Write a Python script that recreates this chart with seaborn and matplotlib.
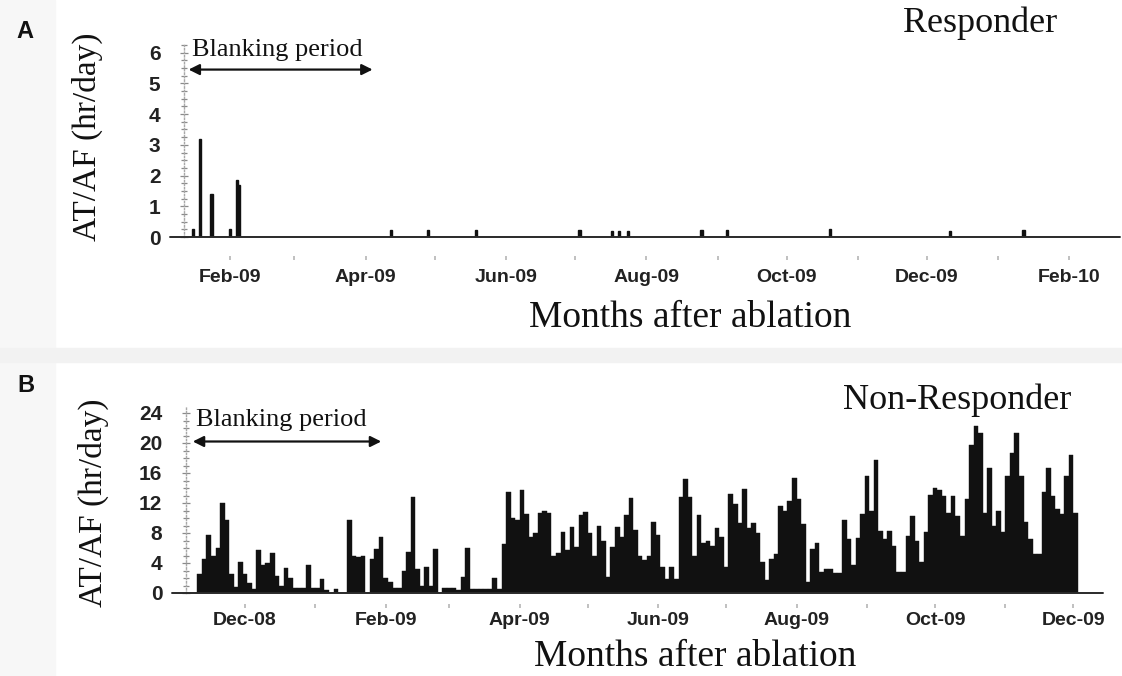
import matplotlib
matplotlib.use("Agg")
import matplotlib.pyplot as plt
import matplotlib.dates as mdates
from matplotlib.patches import Rectangle
from matplotlib.ticker import MultipleLocator
import numpy as np
import pandas as pd
import seaborn as sns

sns.set_style("white")

SERIF = "Liberation Serif"
SANS = "Liberation Sans"
INK = "#111111"

# Panel A (responder): days with any AT/AF, hours per day
resp_dates = ["2009-01-16", "2009-01-19", "2009-01-24", "2009-02-01", "2009-02-04", "2009-02-05",
              "2009-04-12", "2009-04-28", "2009-05-19", "2009-07-03", "2009-07-17", "2009-07-20",
              "2009-07-24", "2009-08-25", "2009-09-05", "2009-10-20", "2009-12-11", "2010-01-12"]
resp_hours = [0.25, 3.2, 1.4, 0.25, 1.85, 1.7,
              0.22, 0.22, 0.22, 0.22, 0.2, 0.2,
              0.2, 0.22, 0.22, 0.25, 0.2, 0.22]

# Panel B (non-responder): one value per 2-day bin, first bin starts 10 Nov 2008
nonresp_start = "2008-11-10"
nonresp_hours = [
    2.6, 4.5, 7.8, 4.9, 6.0, 12.0, 9.7, 2.5, 0.8, 4.2,
    2.6, 1.3, 0.6, 5.8, 3.8, 4.0, 5.3, 2.3, 1.0, 3.4,
    2.0, 0.7, 0.7, 0.7, 3.8, 0.7, 0.7, 1.9, 0.4, 0.0,
    0.5, 0.0, 0.0, 9.7, 5.0, 4.8, 5.0, 0.0, 4.5, 5.8,
    7.5, 2.0, 1.5, 0.7, 0.7, 3.0, 5.5, 12.8, 3.2, 1.0,
    3.5, 1.0, 5.8, 0.0, 0.7, 0.7, 0.7, 0.4, 2.2, 6.0,
    0.5, 0.5, 0.5, 0.5, 0.5, 2.0, 0.5, 6.6, 13.5, 10.0,
    9.7, 13.7, 10.6, 7.5, 8.0, 10.6, 11.0, 10.6, 4.9, 5.3,
    8.2, 5.7, 8.8, 6.2, 10.4, 10.8, 8.0, 5.0, 9.0, 7.0,
    2.2, 6.2, 8.8, 7.5, 10.4, 12.6, 8.4, 4.9, 4.4, 5.0,
    9.5, 7.7, 3.5, 1.8, 3.5, 1.8, 12.8, 15.2, 12.8, 4.9,
    10.4, 6.6, 7.0, 6.2, 8.6, 7.5, 3.5, 13.2, 11.9, 9.3,
    13.9, 8.6, 9.3, 8.0,
    4.1, 1.7, 4.5, 5.2, 11.6, 11.0, 12.3, 15.4, 12.5, 9.2,
    1.5, 5.9, 6.7, 2.8, 3.2, 3.2, 2.6, 2.6, 9.8, 7.2,
    3.7, 7.4, 10.5, 15.6, 10.9, 17.8, 8.3, 7.2, 8.3, 6.3,
    2.8, 2.8, 7.6, 10.3, 7.0, 4.1, 8.1, 13.1, 14.0, 13.8,
    12.9, 10.7, 12.9, 10.3, 7.6, 12.5, 19.8, 22.2, 21.3, 10.7,
    16.7, 9.0, 10.9, 8.1, 15.6, 18.7, 21.3, 15.6, 9.4, 7.2,
    5.2, 5.2, 13.4, 16.7, 12.9, 11.2, 10.5, 15.6, 18.4, 10.7,
]

panels = {
    "A": dict(xlim=("2009-01-12", "2010-02-23"), ylim=6.25, ystep=1, yminor=0.25,
              title="Responder", blank=("2009-01-14", "2009-04-04", 5.45, 6.1),
              rect=(184, 45, 1120, 237), ylab=(87, 137), xlab=(690, 318), tag=(25, 31),
              title_xy=(980, 23), outward=14, pad=6, edge=1.0),
    "B": dict(xlim=("2008-11-05", "2009-12-14"), ylim=24.8, ystep=4, yminor=1,
              title="Non-Responder", blank=("2008-11-08", "2009-01-30", 20.2, 23.1),
              rect=(186, 407, 1103, 593), ylab=(93, 503), xlab=(695, 657), tag=(26, 385),
              title_xy=(957, 400), outward=8, pad=3, edge=0.3),
}

W, H = 1122, 676
fig = plt.figure(figsize=(W / 100, H / 100), dpi=100)
fig.patch.set_facecolor("white")
# faint scan background strips
fig.patches.append(Rectangle((0, 0), 55 / W, 1, transform=fig.transFigure, color="#f7f7f7", zorder=-5))
fig.patches.append(Rectangle((0, 1 - 362 / H), 1, 14 / H, transform=fig.transFigure, color="#f2f2f2", zorder=-5))

# numeric date positions for the histograms
a_df = pd.DataFrame({"day": mdates.date2num(pd.to_datetime(resp_dates)), "hours": resp_hours})
a_edges = np.arange(mdates.date2num(pd.Timestamp("2009-01-12")),
                    mdates.date2num(pd.Timestamp("2010-02-20")) + 1, 1.0) + 0.5
b0 = mdates.date2num(pd.Timestamp(nonresp_start))
b_edges = b0 + 2.0 * np.arange(len(nonresp_hours) + 1)
b_df = pd.DataFrame({"day": b_edges[:-1] + 1.0, "hours": nonresp_hours})

data = {"A": (a_df, a_edges), "B": (b_df, b_edges)}

for key, p in panels.items():
    x0, y0, x1, y1 = p["rect"]
    ax = fig.add_axes([x0 / W, 1 - y1 / H, (x1 - x0) / W, (y1 - y0) / H])
    ax.set_facecolor("none")
    df, edges = data[key]
    sns.histplot(data=df, x="day", weights="hours", bins=list(edges), ax=ax, color=INK,
                 alpha=1, linewidth=p["edge"], edgecolor=INK, stat="count")
    ax.set_xlim(mdates.date2num(pd.Timestamp(p["xlim"][0])), mdates.date2num(pd.Timestamp(p["xlim"][1])))
    ax.set_ylim(0, p["ylim"])
    ax.set_xlabel("")
    ax.set_ylabel("")

    ax.xaxis_date()
    ax.xaxis.set_major_locator(mdates.MonthLocator(bymonth=[2, 4, 6, 8, 10, 12]))
    ax.xaxis.set_minor_locator(mdates.MonthLocator())
    ax.xaxis.set_major_formatter(mdates.DateFormatter("%b-%y"))
    ax.yaxis.set_major_locator(MultipleLocator(p["ystep"]))
    ax.yaxis.set_minor_locator(MultipleLocator(p["yminor"]))

    for s in ["top", "right"]:
        ax.spines[s].set_visible(False)
    ax.spines["bottom"].set_visible(False)
    ax.spines["bottom"].set_position(("outward", p["outward"]))
    ax.spines["left"].set_color("#a8a8a8")
    ax.spines["left"].set_linestyle((0, (1, 1.5)))
    ax.spines["left"].set_linewidth(1.0)
    ax.axhline(0, color="#2a2a2a", lw=1.4, xmin=-0.015, clip_on=False, zorder=3)

    ax.tick_params(axis="x", which="both", bottom=True, direction="out", length=3, width=1.2,
                   color="#b5b5b5", pad=p["pad"])
    ax.tick_params(axis="y", which="both", left=True, direction="inout", length=4, width=0.9,
                   color="#8a8a8a", pad=14)
    ax.tick_params(axis="y", which="major", length=6)
    for lab in ax.get_xticklabels():
        lab.set_fontfamily(SANS)
        lab.set_fontweight("bold")
        lab.set_fontsize(14)
        lab.set_color("#222222")
    for lab in ax.get_yticklabels():
        lab.set_fontfamily(SANS)
        lab.set_fontweight("bold")
        lab.set_fontsize(15)
        lab.set_color("#222222")

    # blanking period annotation
    bs, be, ya, yt = p["blank"]
    ax.annotate("", xy=(mdates.date2num(pd.Timestamp(be)), ya),
                xytext=(mdates.date2num(pd.Timestamp(bs)), ya),
                arrowprops=dict(arrowstyle="<|-|>", color=INK, lw=1.6, mutation_scale=16,
                                shrinkA=0, shrinkB=0), annotation_clip=False)
    ax.text(mdates.date2num(pd.Timestamp(bs)) + 1.5, yt, "Blanking period", family=SERIF,
            fontsize=19, color=INK, va="center", ha="left", clip_on=False)

    fig.text(p["ylab"][0] / W, 1 - p["ylab"][1] / H, "AT/AF (hr/day)", rotation=90,
             family=SERIF, fontsize=24, color=INK, ha="center", va="center")
    fig.text(p["xlab"][0] / W, 1 - p["xlab"][1] / H, "Months after ablation",
             family=SERIF, fontsize=27, color=INK, ha="center", va="center")
    fig.text(p["title_xy"][0] / W, 1 - p["title_xy"][1] / H, p["title"],
             family=SERIF, fontsize=26, color=INK, ha="center", va="center")
    fig.text(p["tag"][0] / W, 1 - p["tag"][1] / H, key, family=SANS, fontweight="bold",
             fontsize=17, color="#111111", ha="center", va="center")

fig.savefig("out.png", dpi=100)
